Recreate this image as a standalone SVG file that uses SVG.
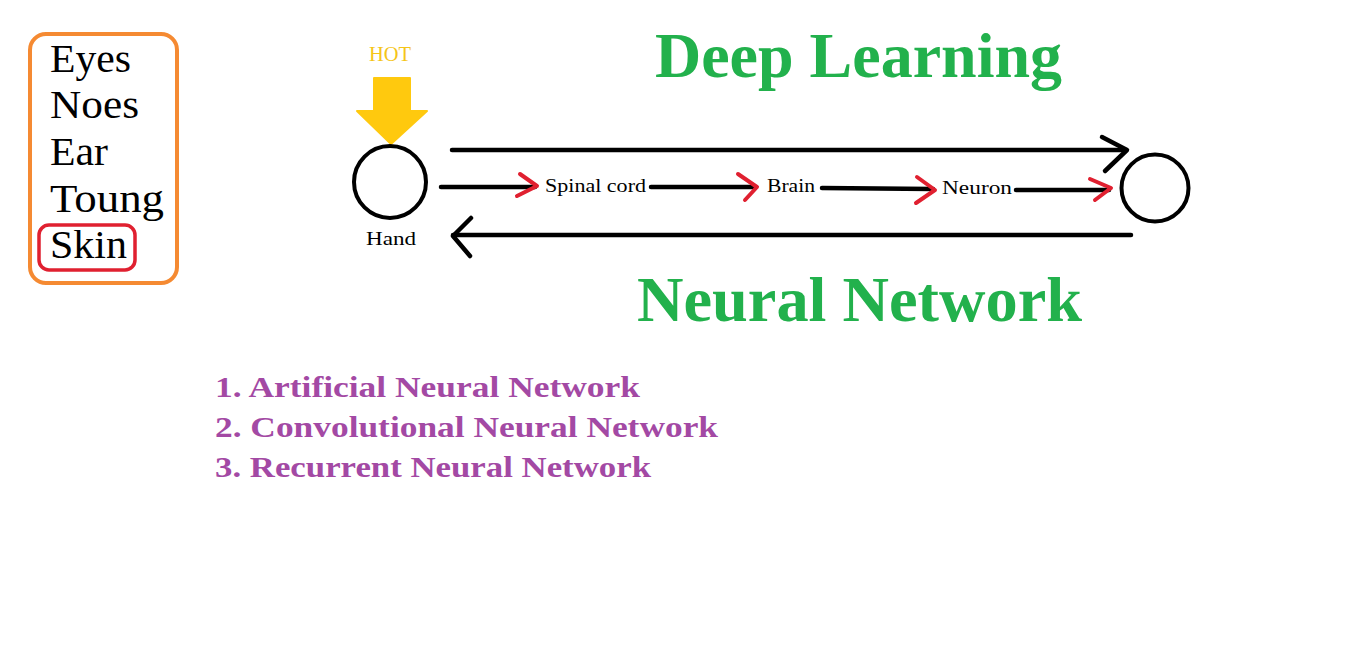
<svg xmlns="http://www.w3.org/2000/svg" width="1350" height="670" viewBox="0 0 1350 670">
<style>
text{font-family:"Liberation Serif","DejaVu Serif",serif;}
.sense{font-size:40px;fill:#000;}
.lbl{font-size:18.5px;fill:#000;}
.title{font-size:63px;font-weight:bold;fill:#22B14C;}
.list{font-size:30px;font-weight:bold;fill:#A349A4;}
.blk{stroke:#000;stroke-width:4.5;fill:none;stroke-linecap:round;stroke-linejoin:round;}
.red{stroke:#E02030;stroke-width:4;fill:none;stroke-linecap:round;stroke-linejoin:round;}
</style>
<rect width="1350" height="670" fill="#fff"/>
<g id="senses">
<rect x="30" y="34" width="147" height="249" rx="16" fill="none" stroke="#F58A32" stroke-width="4"/>
<text class="sense" x="50" y="72" textLength="81" lengthAdjust="spacingAndGlyphs">Eyes</text>
<text class="sense" x="50" y="118" textLength="89" lengthAdjust="spacingAndGlyphs">Noes</text>
<text class="sense" x="50" y="165" textLength="58" lengthAdjust="spacingAndGlyphs">Ear</text>
<text class="sense" x="50" y="212" textLength="114" lengthAdjust="spacingAndGlyphs">Toung</text>
<text class="sense" x="50" y="258" textLength="77" lengthAdjust="spacingAndGlyphs">Skin</text>
<rect x="39" y="225" width="96" height="45" rx="10" fill="none" stroke="#E02030" stroke-width="3.5"/>
</g>
<g id="hot">
<text x="390" y="61" font-size="20" fill="#F5C518" text-anchor="middle" textLength="42" lengthAdjust="spacingAndGlyphs">HOT</text>
<polygon points="374,78 410,78 410,111 427,111 391,144 357,111 374,111" fill="#FFC90E" stroke="#FFC90E" stroke-width="2" stroke-linejoin="round"/>
</g>
<g id="hand">
<circle cx="390" cy="182" r="36" fill="none" stroke="#000" stroke-width="4"/>
<text class="lbl" x="391" y="245" text-anchor="middle" textLength="50" lengthAdjust="spacingAndGlyphs">Hand</text>
</g>
<g id="target">
<circle cx="1155" cy="188" r="33.5" fill="none" stroke="#000" stroke-width="4"/>
</g>
<g id="spinal"><text class="lbl" x="545" y="192" textLength="101" lengthAdjust="spacingAndGlyphs">Spinal cord</text></g>
<g id="brain"><text class="lbl" x="767" y="192" textLength="48" lengthAdjust="spacingAndGlyphs">Brain</text></g>
<g id="neuron"><text class="lbl" x="942" y="194" textLength="70" lengthAdjust="spacingAndGlyphs">Neuron</text></g>
<g id="connectors">
<line class="blk" x1="452" y1="150" x2="1126" y2="150"/>
<polyline class="blk" points="1102,137 1127,150 1105,171"/>
<line class="blk" x1="1131" y1="235" x2="453" y2="235"/>
<polyline class="blk" points="471,218 453,236 470,256"/>
<line class="blk" x1="441" y1="187" x2="535" y2="187"/>
<polyline class="red" points="520,174 537,186 517,196"/>
<line class="blk" x1="651" y1="187" x2="755" y2="187"/>
<polyline class="red" points="738,174 757,187 745,200"/>
<line class="blk" x1="822" y1="188" x2="933" y2="189"/>
<polyline class="red" points="917,177 935,190 916,203"/>
<line class="blk" x1="1016" y1="190" x2="1109" y2="190"/>
<polyline class="red" points="1090,179 1111,188 1095,200"/>
</g>
<g id="titles">
<text class="title" x="655" y="77" textLength="407" lengthAdjust="spacingAndGlyphs">Deep Learning</text>
<text class="title" x="637" y="321" textLength="445" lengthAdjust="spacingAndGlyphs">Neural Network</text>
</g>
<g id="list">
<text class="list" x="215" y="397" textLength="425" lengthAdjust="spacingAndGlyphs">1. Artificial Neural Network</text>
<text class="list" x="215" y="437" textLength="503" lengthAdjust="spacingAndGlyphs">2. Convolutional Neural Network</text>
<text class="list" x="215" y="477" textLength="436" lengthAdjust="spacingAndGlyphs">3. Recurrent Neural Network</text>
</g>
</svg>
